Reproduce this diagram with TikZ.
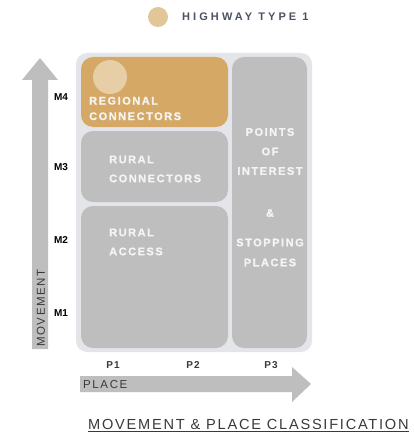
\documentclass[tikz,border=0pt]{standalone}
\usepackage{fontspec}
\setmainfont{Liberation Sans}
\newfontfamily\boxfont[LetterSpace=14, FakeBold=1.2, UprightFont={Liberation Sans Bold}]{Liberation Sans}
\newfontfamily\legfont[LetterSpace=28, UprightFont={Liberation Sans Bold}]{Liberation Sans}
\newfontfamily\pfont[LetterSpace=10, UprightFont={Liberation Sans Bold}]{Liberation Sans}
\newfontfamily\axfont[LetterSpace=14]{Liberation Sans}
\newfontfamily\titlefont[LetterSpace=12]{Liberation Sans}
\definecolor{bgpanel}{HTML}{E3E5E9}
\definecolor{boxgray}{HTML}{BEBEBE}
\definecolor{tan}{HTML}{D6A865}
\definecolor{tanlight}{HTML}{E7CEA6}
\definecolor{legtan}{HTML}{E2C697}
\definecolor{legtext}{HTML}{4C5262}
\definecolor{boxtext}{HTML}{F4F4F4}
\definecolor{axtext}{HTML}{3A3A3A}
\tikzset{
  cell/.style={draw=none, rounded corners=12pt, inner sep=0pt},
  boxlabel/.style={font=\boxfont\fontsize{11}{20}\selectfont, text=boxtext, align=left, anchor=west, inner sep=0pt},
  collabel/.style={font=\boxfont\fontsize{11}{20}\selectfont, text=boxtext, align=center, inner sep=0pt},
  mlabel/.style={font=\bfseries\fontsize{10}{12}\selectfont, text=black, inner sep=0pt},
  plabel/.style={font=\pfont\fontsize{10}{12}\selectfont, text=axtext, inner sep=0pt},
  axlabel/.style={font=\axfont\fontsize{11.5}{12}\selectfont, text=axtext, inner sep=0pt},
}
\begin{document}
\begin{tikzpicture}[x=1pt,y=-1pt]
\useasboundingbox[fill=white] (0,0) rectangle (414,433);
% legend
\node[circle, fill=legtan, minimum size=20pt, inner sep=0pt] (legc) at (158,17) {};
\node[font=\legfont\fontsize{11}{12}\selectfont, text=legtext, anchor=west, inner sep=0pt] (legt) at (182,17) {HIGHWAY TYPE 1};
% panel
\node[cell, fill=bgpanel, rounded corners=11pt, minimum width=236pt, minimum height=299pt] (panel) at (194,202.5) {};
\node[cell, fill=tan, minimum width=147pt, minimum height=70pt] (reg) at (154.5,92) {};
\node[cell, fill=boxgray, minimum width=147pt, minimum height=71pt] (rcon) at (154.5,166.5) {};
\node[cell, fill=boxgray, minimum width=147pt, minimum height=142pt] (racc) at (154.5,277) {};
\node[cell, fill=boxgray, minimum width=75pt, minimum height=291pt] (poi) at (269.5,202.5) {};
\node[circle, fill=tanlight, minimum size=34pt, inner sep=0pt] (regc) at (110,77) {};
% box labels
\node[boxlabel] (regt) at (89,108.5) {REGIONAL\\[-4.5pt]CONNECTORS};
\node[boxlabel] (rcont) at (109,169) {RURAL\\[-1pt]CONNECTORS};
\node[boxlabel] (racct) at (109,242) {RURAL\\[-1pt]ACCESS};
\node[collabel] (poit1) at (270,151.5) {POINTS\\[-0.5pt]OF\\[-0.5pt]INTEREST};
\node[collabel] (poit2) at (270,213) {\&};
\node[collabel] (poit3) at (270,252.5) {STOPPING\\[0pt]PLACES};
% vertical arrow
\fill[boxgray] (32,349) -- (32,80) -- (22,80) -- (40,58) -- (58,80) -- (48,80) -- (48,349) -- cycle;
\coordinate (vbase) at (40,349);
\node[axlabel, rotate=90, anchor=west] (movt) at (41,347) {MOVEMENT};
% M labels
\node[mlabel] (m4) at (61,97) {M4};
\node[mlabel] (m3) at (61,167) {M3};
\node[mlabel] (m2) at (61,240) {M2};
\node[mlabel] (m1) at (61,313) {M1};
% P labels
\node[plabel] (p1) at (113,365) {P1};
\node[plabel] (p2) at (193,365) {P2};
\node[plabel] (p3) at (271,365) {P3};
% horizontal arrow
\fill[boxgray] (80,376) -- (292,376) -- (292,367) -- (311,384) -- (292,402) -- (292,392) -- (80,392) -- cycle;
\node[axlabel, anchor=west] (plt) at (83,384.5) {PLACE};
% title
\node[font=\titlefont\fontsize{14.6}{16}\selectfont, text=axtext, anchor=base west, inner sep=0pt] (title) at (88,429) {MOVEMENT \& PLACE CLASSIFICATION};
\draw[axtext, line width=0.8pt] ([yshift=-2.5pt]title.base west) -- ([yshift=-2.5pt]title.base east);
\end{tikzpicture}
\end{document}
